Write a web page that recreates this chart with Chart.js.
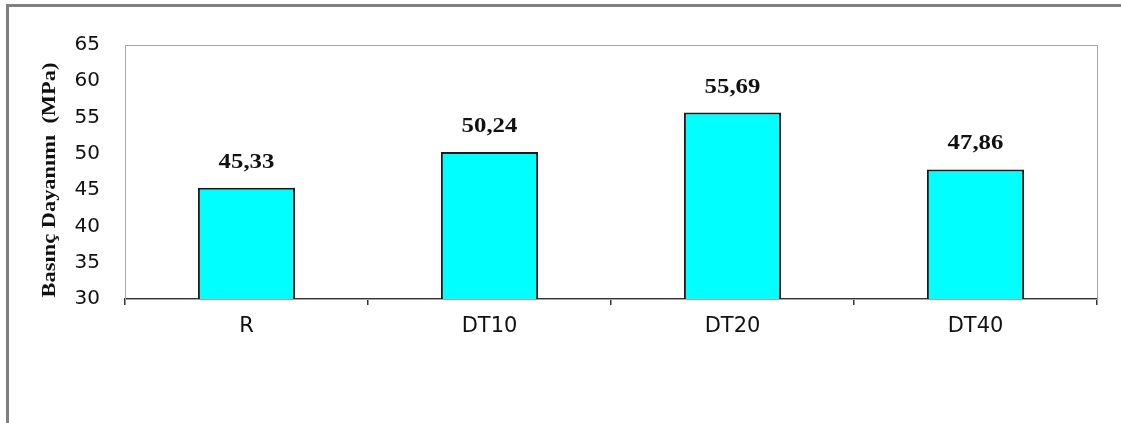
<!DOCTYPE html>
<html>
<head>
<meta charset="utf-8">
<script src="https://cdn.jsdelivr.net/npm/chart.js@4"></script>
<style>
  html, body { margin: 0; padding: 0; background: #fff; }
  #wrap { position: relative; width: 1121px; height: 423px; overflow: hidden; }
  #frame { position: absolute; left: 6px; top: 4px; right: 0; bottom: 0;
           border-top: 3px solid #7f7f7f; border-left: 3px solid #7f7f7f; pointer-events: none; }
  canvas { position: absolute; left: 0; top: 0; }
</style>
</head>
<body>
<div id="wrap">
  <canvas id="chart" width="1121" height="423"></canvas>
  <div id="frame"></div>
</div>
<script>
// veriler
const categories = ['R', 'DT10', 'DT20', 'DT40'];
const strength = [45.33, 50.24, 55.69, 47.86];
const valueLabels = ['45,33', '50,24', '55,69', '47,86'];
const yTitle = 'Basınç Dayanımı  (MPa)';

// cizim alani cercevesi, ust ve sag kenar acik gri
const plotBorder = {
    id: 'plotBorder',
    beforeDatasetsDraw(chart) {
        const { ctx, chartArea: a } = chart;
        ctx.save();
        ctx.strokeStyle = '#a6a6a6';
        ctx.lineWidth = 1;
        ctx.strokeRect(a.left + 0.5, a.top + 0.5, a.right - a.left, a.bottom - a.top);
        ctx.restore();
    }
};

// bar ustu degerler ve eksen basligi (serif, biraz genis)
const serifText = {
    id: 'serifText',
    afterDatasetsDraw(chart) {
        const ctx = chart.ctx;
        const meta = chart.getDatasetMeta(0);
        ctx.save();
        ctx.fillStyle = '#111';
        ctx.font = 'bold 21px "Liberation Serif", "Times New Roman", serif';
        ctx.textAlign = 'center';
        ctx.textBaseline = 'alphabetic';
        meta.data.forEach((bar, i) => {
            ctx.save();
            ctx.translate(bar.x, bar.y - 20);
            ctx.scale(1.18, 1);
            ctx.fillText(valueLabels[i], 0, 0);
            ctx.restore();
        });

        ctx.font = 'bold 19px "Liberation Serif", "Times New Roman", serif';
        ctx.textBaseline = 'middle';
        ctx.translate(50, 180);
        ctx.rotate(-Math.PI / 2);
        ctx.scale(1.18, 1);
        ctx.fillText(yTitle, 0, 0);
        ctx.restore();
    }
};

new Chart(document.getElementById('chart'), {
    type: 'bar',
    data: {
        labels: categories,
        datasets: [{
            data: strength,
            backgroundColor: '#00ffff',
            borderColor: '#1a1a1a',
            borderWidth: 2,
            barPercentage: 0.4,
            categoryPercentage: 1
        }]
    },
    options: {
        responsive: false,
        animation: false,
        layout: { padding: { top: 45, right: 24, bottom: 0, left: 0 } },
        plugins: { legend: { display: false }, tooltip: { enabled: false } },
        scales: {
            x: {
                afterFit: s => { s.height = 124; },
                grid: { offset: true, drawOnChartArea: false, drawTicks: true, tickLength: 6, color: '#333', lineWidth: 1.5 },
                border: { display: true, color: '#333', width: 2 },
                ticks: { color: '#111', padding: 9, font: { family: '"DejaVu Sans", Arial, sans-serif', size: 21 } }
            },
            y: {
                min: 30,
                max: 65,
                afterFit: s => { s.width = 125; },
                grid: { display: false, drawTicks: false },
                border: { display: true, color: '#8c8c8c', width: 1 },
                ticks: { stepSize: 5, color: '#111', padding: 25, font: { family: '"DejaVu Sans", Arial, sans-serif', size: 20 } }
            }
        }
    },
    plugins: [plotBorder, serifText]
});
</script>
</body>
</html>
